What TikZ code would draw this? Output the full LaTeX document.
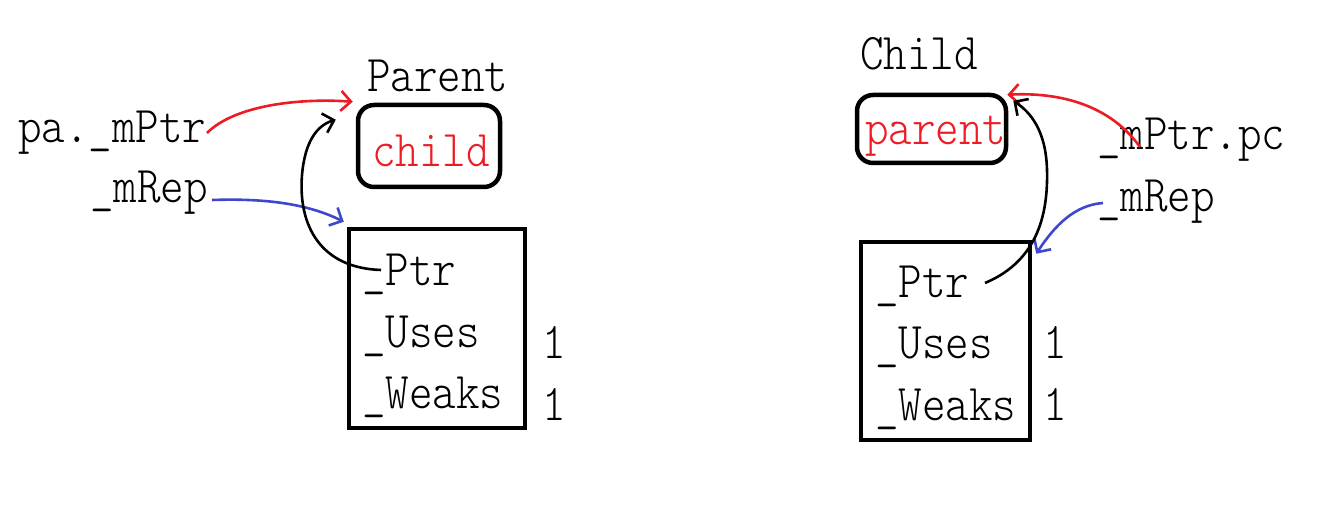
\documentclass[tikz,border=0pt]{standalone}
\usepackage{fontspec}
\setmonofont{Latin Modern Mono Light}
\usetikzlibrary{arrows.meta}
\definecolor{pred}{RGB}{237,28,36}
\definecolor{pblue}{RGB}{63,72,204}
\newcommand{\vs}[1]{\scalebox{1}[1.15]{#1}}
\begin{document}
\begin{tikzpicture}[x=1bp,y=-1bp,
  lab/.style={font=\fontsize{45}{50}\selectfont\ttfamily, inner sep=0pt, anchor=base west},
  rbox/.style={draw, line width=4.5bp, rounded corners=16bp, inner sep=0pt},
  sbox/.style={draw, line width=4.5bp, inner sep=0pt},
  arr/.style={line width=2.6bp, -{Straight Barb[length=10bp,width=20bp]}}]
\useasboundingbox (0,0) rectangle (1323,519);
% left
\node[lab] (parentT) at (367,92) {\vs{Parent}};
\node[rbox, minimum width=142bp, minimum height=82bp] (lcb) at (429,146) {};
\node[lab, text=pred] (childT) at (372,167) {\vs{child}};
\node[lab] (pa) at (18,143) {\vs{pa.\_mPtr}};
\node[lab] (lrep) at (90,203) {\vs{\_mRep}};
\node[sbox, minimum width=176bp, minimum height=199bp] (lrb) at (437,328.5) {};
\node[lab] (lptr) at (362,285) {\vs{\_Ptr}};
\node[lab] (luses) at (362,347) {\vs{\_Uses}};
\node[lab] (lweaks) at (362,408) {\vs{\_Weaks}};
\node[lab] (lu1) at (542,358) {\vs{1}};
\node[lab] (lw1) at (542,420) {\vs{1}};
% right
\node[lab] (childH) at (860,70) {\vs{Child}};
\node[rbox, minimum width=149bp, minimum height=68bp] (rcb) at (931.5,129) {};
\node[lab, text=pred] (parentR) at (865,145) {\vs{parent}};
\node[lab] (pc) at (1097,150) {\vs{\_mPtr.pc}};
\node[lab] (rrep) at (1097,212) {\vs{\_mRep}};
\node[sbox, minimum width=169bp, minimum height=198bp] (rrb) at (945.5,341) {};
\node[lab] (rptr) at (875,297) {\vs{\_Ptr}};
\node[lab] (ruses) at (875,358) {\vs{\_Uses}};
\node[lab] (rweaks) at (875,420) {\vs{\_Weaks}};
\node[lab] (ru1) at (1043,358) {\vs{1}};
\node[lab] (rw1) at (1043,420) {\vs{1}};
% connectors left
\coordinate (paE) at (207,133);
\coordinate (repE) at (212,200);
\coordinate (lptrS) at (381,270);
\draw[arr, pred] (paE) .. controls (235,105) and (300,98) .. ([shift={(-3,-1)}]lcb.north west);
\draw[arr, pblue] (repE) .. controls (270,198) and (310,205) .. ([shift={(-3,-5)}]lrb.north west);
\draw[arr, black] (lptrS) .. controls (320,268) and (298,225) .. (302,175) .. controls (305,140) and (318,125) .. ([shift={(-20,17)}]lcb.north west);
% connectors right
\coordinate (pcS) at (1140,147);
\coordinate (rrepS) at (1103,203);
\coordinate (rptrS) at (985,283);
\draw[arr, pred] (pcS) .. controls (1110,105) and (1060,92) .. ([shift={(-1,2)}]rcb.north east);
\draw[arr, pblue] (rrepS) .. controls (1075,205) and (1055,225) .. ([shift={(4,14)}]rrb.north east);
\draw[arr, black] (rptrS) .. controls (1040,260) and (1048,210) .. (1047,170) .. controls (1046,130) and (1030,112) .. ([shift={(5,8)}]rcb.north east);
\end{tikzpicture}
\end{document}
